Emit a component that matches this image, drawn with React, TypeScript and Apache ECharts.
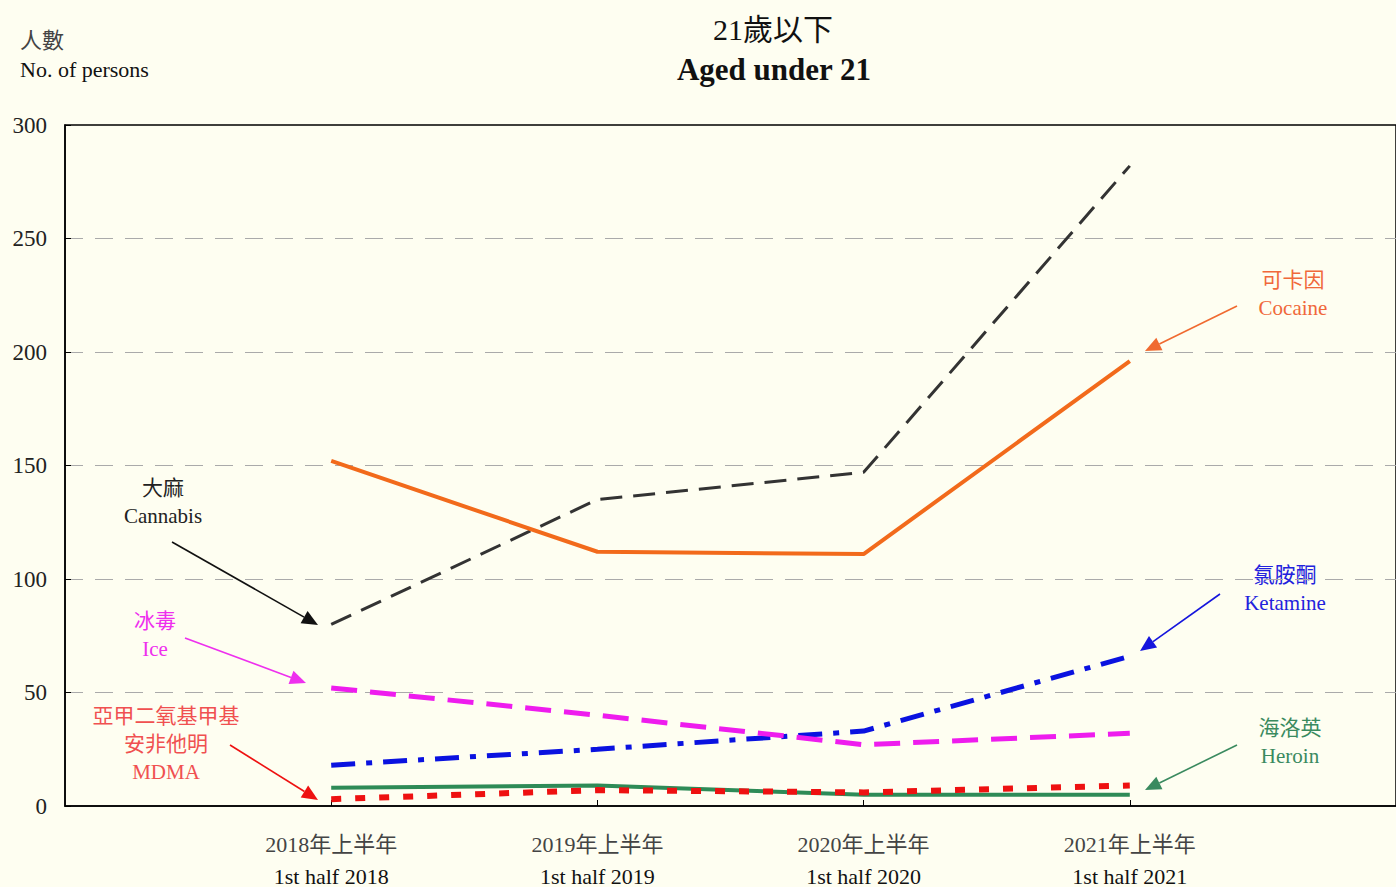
import React, { useEffect, useRef } from "react";
import * as echarts from "echarts";

const periodsZh = ["2018年上半年", "2019年上半年", "2020年上半年", "2021年上半年"];
const periodsEn = ["1st half 2018", "1st half 2019", "1st half 2020", "1st half 2021"];
const yTicks = [0, 50, 100, 150, 200, 250, 300];

const cannabis = [80, 135, 147, 282];
const cocaine = [152, 112, 111, 196];
const ketamine = [18, 25, 33, 66];
const ice = [52, 40, 27, 32];
const heroin = [8, 9, 5, 5];
const mdma = [3, 7, 6, 9];

const SERIF = "'Liberation Serif', 'Noto Sans CJK TC', serif";

function pts(vals: number[]) {
  return vals.map((v, i) => [i + 1, v]);
}

function arrow(x1: number, y1: number, x2: number, y2: number, color: string, w = 1.6) {
  const ang = Math.atan2(y2 - y1, x2 - x1);
  const L = 16, H = 7;
  const bx = x2 - L * Math.cos(ang), by = y2 - L * Math.sin(ang);
  const px = -Math.sin(ang), py = Math.cos(ang);
  return {
    type: "group",
    children: [
      { type: "line", shape: { x1, y1, x2: bx, y2: by }, style: { stroke: color, lineWidth: w } },
      {
        type: "polygon",
        shape: { points: [[x2, y2], [bx + px * H, by + py * H], [bx - px * H, by - py * H]] },
        style: { fill: color },
      },
    ],
  };
}

function label(x: number, y: number, lines: string[], color: string) {
  return {
    type: "text",
    x,
    y,
    style: {
      text: lines.join("\n"),
      fill: color,
      font: `21px ${SERIF}`,
      lineHeight: 28,
      align: "center",
      verticalAlign: "top",
    },
  };
}

export default function App() {
  const ref = useRef<HTMLDivElement>(null);
  useEffect(() => {
    const chart = echarts.init(ref.current!, null, { renderer: "svg" });
    const mk = (name: string, data: number[], color: string, width: number, type: any) => ({
      name,
      type: "line",
      data: pts(data),
      symbol: "none",
      lineStyle: { color, width, type, cap: "butt" },
      z: 3,
    });
    chart.setOption({
      animation: false,
      backgroundColor: "#fefef1",
      textStyle: { fontFamily: SERIF },
      grid: {
        left: 65,
        top: 125,
        right: -4,
        bottom: 79,
        show: true,
        borderColor: "#000",
        borderWidth: 1.5,
        backgroundColor: "transparent",
      },
      xAxis: {
        type: "value",
        min: 0,
        max: 5,
        interval: 1,
        axisLine: { show: true, lineStyle: { color: "#000", width: 1.5 } },
        axisTick: { show: true, inside: true, length: 6, customValues: [1, 2, 3, 4], lineStyle: { color: "#000" } },
        splitLine: { show: false },
        axisLabel: {
          customValues: [1, 2, 3, 4],
          margin: 22,
          formatter: (v: number) => `{zh|${periodsZh[v - 1]}}\n{en|${periodsEn[v - 1]}}`,
          rich: {
            zh: { fontSize: 22, color: "#444", fontFamily: SERIF, lineHeight: 32 },
            en: { fontSize: 22, color: "#111", fontFamily: SERIF, lineHeight: 32 },
          },
        },
      },
      yAxis: {
        type: "value",
        min: 0,
        max: 300,
        interval: 50,
        axisLine: { show: true, lineStyle: { color: "#000", width: 1.5 } },
        axisTick: { show: true, inside: true, length: 6, lineStyle: { color: "#000" } },
        axisLabel: {
          margin: 18,
          fontSize: 23,
          color: "#222",
          fontFamily: SERIF,
          formatter: (v: number) => (yTicks.includes(v) ? String(v) : ""),
        },
        splitLine: {
          show: true,
          showMinLine: false,
          showMaxLine: false,
          lineStyle: { color: "#aaa", width: 1, type: [18, 12] },
        },
      },
      title: [
        {
          text: "21歲以下",
          left: 768,
          top: 9,
          textAlign: "center",
          textStyle: { fontSize: 30, fontWeight: "normal", color: "#111", fontFamily: SERIF },
        },
        {
          text: "Aged under 21",
          left: 769,
          top: 49,
          textAlign: "center",
          textStyle: { fontSize: 31, fontWeight: "bold", color: "#111", fontFamily: SERIF },
        },
        {
          text: "人數",
          left: 15,
          top: 24,
          textStyle: { fontSize: 22, fontWeight: "normal", color: "#444", fontFamily: SERIF },
        },
        {
          text: "No. of persons",
          left: 15,
          top: 53,
          textStyle: { fontSize: 22, fontWeight: "normal", color: "#111", fontFamily: SERIF },
        },
      ],
      series: [
        mk("Cannabis", cannabis, "#333333", 3, [22, 11]),
        mk("Cocaine", cocaine, "#f26a1b", 4, "solid"),
        mk("Ketamine", ketamine, "#0a12e0", 5, [24, 11, 6, 11]),
        mk("Ice", ice, "#ee1cee", 5, [26, 13]),
        mk("Heroin", heroin, "#2e8b57", 4, "solid"),
        mk("MDMA", mdma, "#ee1111", 6, [10, 14]),
      ],
      graphic: [
        label(163, 474, ["大麻", "Cannabis"], "#222"),
        arrow(172, 542, 318, 625, "#111"),
        label(155, 607, ["冰毒", "Ice"], "#ee30ee"),
        arrow(185, 638, 306, 683, "#ee30ee"),
        label(166, 702, ["亞甲二氧基甲基", "安非他明", "MDMA"], "#f05050"),
        arrow(230, 745, 318, 800, "#ee1111"),
        label(1293, 266, ["可卡因", "Cocaine"], "#f0683a"),
        arrow(1237, 306, 1145, 351, "#f06a30"),
        label(1285, 561, ["氯胺酮", "Ketamine"], "#2222dd"),
        arrow(1220, 594, 1140, 651, "#1515dd"),
        label(1290, 714, ["海洛英", "Heroin"], "#3a8a5f"),
        arrow(1237, 745, 1145, 790, "#3a8a5f"),
      ],
    });
    return () => chart.dispose();
  }, []);
  return <div ref={ref} style={{ position: "fixed", left: 0, top: 0, width: 1396, height: 887 }} />;
}
